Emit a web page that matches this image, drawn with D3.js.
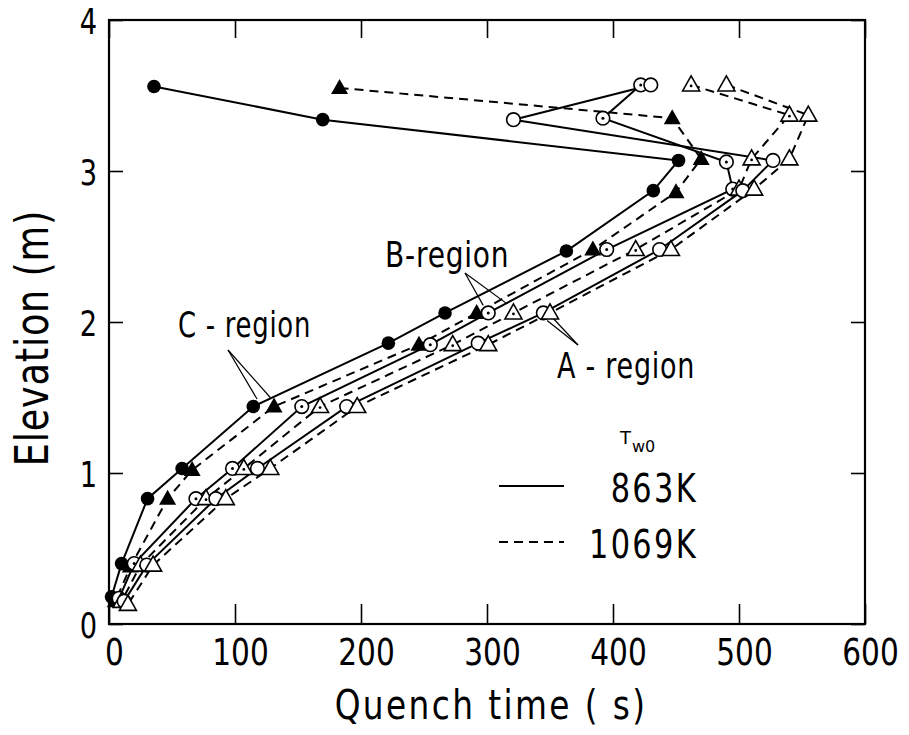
<!DOCTYPE html>
<html><head><meta charset="utf-8">
<script src="https://cdn.jsdelivr.net/npm/d3@7"></script>
<style>
html,body{margin:0;padding:0;background:#fff;}
svg text{font-family:"DejaVu Sans","Liberation Sans",sans-serif;fill:#000;}
</style></head>
<body>
<svg id="chart" width="909" height="735"></svg>
<script>
// ---- data ----
const xTicks = [0, 100, 200, 300, 400, 500, 600];
const yTicks = [0, 1, 2, 3, 4];
const c863  = [[35.7,3.56],[169.6,3.34],[452,3.07],[432,2.87],[363,2.47],[266.7,2.06],[221.7,1.86],[114.5,1.44],[58,1.03],[30.6,0.83],[10,0.40],[2,0.18]];
const c1069 = [[183,3.55],[447,3.35],[470,3.08],[450,2.86],[384,2.48],[291.8,2.06],[246,1.85],[131,1.44],[66,1.02],[46.5,0.83],[17,0.38],[5,0.15]];
const b863  = [[422,3.57],[392,3.35],[490,3.06],[495,2.88],[395,2.48],[301,2.06],[255,1.85],[153,1.44],[98,1.03],[69,0.83],[20,0.40],[8,0.17]];
const b1069 = [[462,3.57],[540,3.37],[510,3.08],[500,2.88],[418,2.48],[321,2.06],[272.8,1.85],[167.5,1.44],[107,1.03],[77,0.83],[25,0.39],[10,0.15]];
const a863  = [[430,3.57],[321,3.34],[527,3.07],[503,2.87],[437,2.48],[344.7,2.06],[293,1.86],[188.6,1.44],[117.8,1.03],[84.8,0.83],[30,0.39],[12,0.15]];
const a1069 = [[490,3.57],[555,3.37],[540,3.08],[512,2.88],[446,2.48],[350,2.06],[301,1.85],[197,1.44],[128,1.03],[92.7,0.83],[35,0.39],[15,0.13]];
const seriesNames = ["C 863K","C 1069K","B 863K","B 1069K","A 863K","A 1069K"];
const legendLabels = ["863K","1069K"];

const series = [
  {name:seriesNames[0], data:c863,  marker:"dot",      dash:null},
  {name:seriesNames[1], data:c1069, marker:"tri",      dash:"9,6"},
  {name:seriesNames[2], data:b863,  marker:"circdot",  dash:null},
  {name:seriesNames[3], data:b1069, marker:"tridot",   dash:"9,6"},
  {name:seriesNames[4], data:a863,  marker:"circ",     dash:null},
  {name:seriesNames[5], data:a1069, marker:"opentri",  dash:"9,6"}
];

const W = 909, H = 735;
const m = {left:109, right:44, top:20, bottom:111};
const svg = d3.select("#chart");
const x = d3.scaleLinear().domain([0,600]).range([m.left, W-m.right]);
const y = d3.scaleLinear().domain([0,4]).range([H-m.bottom, m.top]);

// condensed text helper
function ctext(parent, px, py, str, size, sx, anchor, rot){
  const t = parent.append("text")
    .attr("transform",`translate(${px},${py})` + (rot?` rotate(${rot})`:"") + ` scale(${sx},1)`)
    .attr("font-size",size).attr("text-anchor",anchor||"start").text(str);
  return t;
}

// frame
svg.append("rect").attr("x",x(0)).attr("y",y(4)).attr("width",x(600)-x(0)).attr("height",y(0)-y(4))
  .attr("fill","none").attr("stroke","#000").attr("stroke-width",2.2);

// axes (inward ticks)
const gx = svg.append("g").attr("transform",`translate(0,${y(0)})`)
  .call(d3.axisBottom(x).tickValues(xTicks).tickSize(-20).tickPadding(0).tickFormat(d3.format("d")));
const gxt = svg.append("g").attr("transform",`translate(0,${y(4)})`)
  .call(d3.axisTop(x).tickValues(xTicks).tickSize(-18).tickFormat(""));
const gy = svg.append("g").attr("transform",`translate(${x(0)},0)`)
  .call(d3.axisLeft(y).tickValues(yTicks).tickSize(-14).tickPadding(0).tickFormat(d3.format("d")));
const gyr = svg.append("g").attr("transform",`translate(${x(600)},0)`)
  .call(d3.axisRight(y).tickValues(yTicks).tickSize(-14).tickFormat(""));
[gx,gxt,gy,gyr].forEach(g=>{
  g.select(".domain").remove();
  g.selectAll(".tick line").attr("stroke","#000").attr("stroke-width",1.6);
});
gx.selectAll(".tick text").attr("font-size",37).attr("font-family",null)
  .attr("y",null).attr("dy",null).attr("transform","translate(5,41) scale(0.8,1)");
gy.selectAll(".tick text").attr("font-size",35).attr("font-family",null)
  .attr("x",null).attr("dy",null).attr("transform","translate(-12,13) scale(0.78,1)");

// axis titles
ctext(svg, (x(0)+x(600))/2+4, 719, "Quench  time ( s)", 41, 0.8, "middle").attr("letter-spacing",3);
ctext(svg, 48, 338, "Elevation (m)", 47, 0.78, "middle", -90).attr("letter-spacing",1);

// lines
const line = d3.line().x(d=>x(d[0])).y(d=>y(d[1]));
svg.append("g").selectAll("path").data(series).join("path")
  .attr("d",d=>line(d.data)).attr("fill","none").attr("stroke","#000").attr("stroke-width",2)
  .attr("stroke-dasharray",d=>d.dash);

// markers
function drawMarker(g, type){
  const tri = "M0,-9L8.5,6L-8.5,6Z";
  if(type==="dot") g.append("circle").attr("r",6.8).attr("fill","#000");
  else if(type==="circ") g.append("circle").attr("r",6.8).attr("fill","#fff").attr("stroke","#000").attr("stroke-width",1.6);
  else if(type==="circdot"){ g.append("circle").attr("r",6.8).attr("fill","#fff").attr("stroke","#000").attr("stroke-width",1.6);
    g.append("circle").attr("r",1.5).attr("fill","#000"); }
  else if(type==="tri") g.append("path").attr("d",tri).attr("fill","#000");
  else if(type==="opentri") g.append("path").attr("d",tri).attr("fill","#fff").attr("stroke","#000").attr("stroke-width",1.6);
  else if(type==="tridot"){ g.append("path").attr("d",tri).attr("fill","#fff").attr("stroke","#000").attr("stroke-width",1.6);
    g.append("circle").attr("cy",1).attr("r",1.4).attr("fill","#000"); }
}
series.forEach(s=>{
  const gs = svg.append("g");
  s.data.forEach(d=>{
    const g = gs.append("g").attr("transform",`translate(${x(d[0])},${y(d[1])})`);
    drawMarker(g, s.marker);
  });
});

// region annotations
function annot(label, tx, ty, sx, from, targets){
  ctext(svg, tx, ty, label, 36, sx, "start").attr("letter-spacing",1);
  targets.forEach(t=>{
    svg.append("line").attr("x1",from[0]).attr("y1",from[1]).attr("x2",x(t[0])).attr("y2",y(t[1]))
      .attr("stroke","#000").attr("stroke-width",1.2);
  });
}
annot("C - region", 178, 337, 0.72, [228,350], [[c863[7][0]+3,c863[7][1]+0.05],[c1069[7][0]-3,c1069[7][1]+0.06]]);
annot("B-region", 385, 267, 0.78, [465,273], [[b863[5][0]-4,b863[5][1]+0.05],[b1069[5][0]-5,b1069[5][1]+0.06]]);
annot("A - region", 557, 378, 0.75, [578,345], [[a863[5][0]+3,a863[5][1]-0.05],[a1069[5][0]+3,a1069[5][1]-0.04]]);

// legend
svg.append("text").attr("x",620).attr("y",444).attr("font-family","'DejaVu Serif','Liberation Serif',serif").attr("font-size",18).text("T");
svg.append("text").attr("x",632).attr("y",452).attr("font-family","'DejaVu Serif','Liberation Serif',serif").attr("font-size",16).text("w0");
const leg = svg.append("g");
[null,"9,6"].forEach((dash,i)=>{
  const ly = 486 + i*56;
  leg.append("line").attr("x1",499).attr("x2",564).attr("y1",ly).attr("y2",ly)
    .attr("stroke","#000").attr("stroke-width",2).attr("stroke-dasharray",dash);
  ctext(leg, 698, ly+16, legendLabels[i], 39, 0.78, "end").attr("letter-spacing",3);
});
</script>
</body></html>
